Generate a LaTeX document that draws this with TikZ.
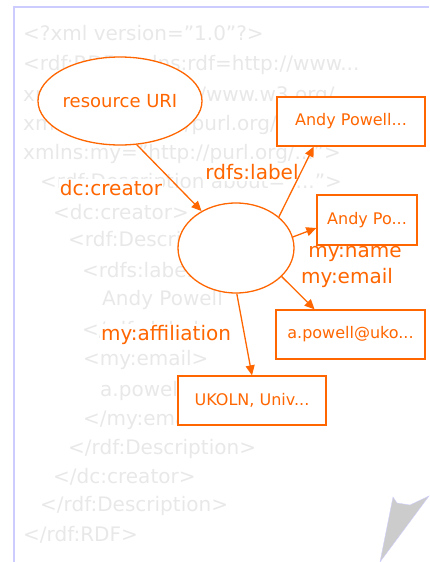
\documentclass[tikz,border=0pt]{standalone}
\usepackage[usenames,dvipsnames]{xcolor}
\usepackage{fontspec}
\setmainfont{DejaVu Sans}
\usepackage{tikz}
\usetikzlibrary{arrows.meta,shapes.geometric}
\definecolor{rdforange}{RGB}{255,102,0}
\definecolor{xmlgrey}{RGB}{232,232,232}
\definecolor{framelilac}{RGB}{204,204,255}
\definecolor{curlgrey}{RGB}{204,204,204}

\begin{document}
\begin{tikzpicture}[x=1pt,y=-1pt,
  xmlline/.style={anchor=west,inner sep=0pt,text=xmlgrey,font=\fontsize{20}{24}\selectfont},
  rdfnode/.style={ellipse,draw=rdforange,fill=white,line width=1.3pt,inner sep=0pt,text=rdforange,font=\fontsize{18}{22}\selectfont},
  litbox/.style={rectangle,draw=rdforange,fill=white,line width=1.3pt,minimum width=148pt,minimum height=49pt,inner sep=0pt,text=rdforange,font=\fontsize{16}{20}\selectfont},
  arclabel/.style={fill=white,inner sep=1pt,text=rdforange,font=\fontsize{20}{24}\selectfont},
  rdfarc/.style={-{Triangle[length=10pt,width=9pt]},color=rdforange,line width=1.3pt}]
\useasboundingbox (0,0) rectangle (429,562);

 % slide frame and page curl
 \draw[framelilac,line width=1.5pt] (14,562) -- (14,7) -- (429,7);
 \fill[curlgrey,draw=framelilac,line width=0.4pt] (393,497) -- (397,503) -- (410,505) -- (429,496) -- (380,562) -- cycle;

 % the rdf/xml behind the graph
 \draw (23,33) node[xmlline] (x1) {<?xml version="1.0"?>};
 \draw (23,65) node[xmlline] (x2) {<rdf:RDF xmlns:rdf=http://www...};
 \draw (23,96) node[xmlline] (x3) {xmlns:rdfs=http://www.w3.org/};
 \draw (23,125) node[xmlline] (x4) {xmlns:dc=http://purl.org/dc/...};
 \draw (23,154) node[xmlline] (x5) {xmlns:my="http://purl.org/...">};
 \draw (40,183) node[xmlline] (x6) {<rdf:Description about="...">};
 \draw (53,212) node[xmlline] (x7) {<dc:creator>};
 \draw (68,241) node[xmlline] (x8) {<rdf:Description>};
 \draw (82,270) node[xmlline] (x9) {<rdfs:label>};
 \draw (102,300) node[xmlline] (x10) {Andy Powell};
 \draw (82,330) node[xmlline] (x11) {</rdfs:label>};
 \draw (83,360) node[xmlline] (x12) {<my:email>};
 \draw (100,391) node[xmlline] (x13) {a.powell@ukoln.ac.uk};
 \draw (83,420) node[xmlline] (x14) {</my:email>};
 \draw (68,449) node[xmlline] (x15) {</rdf:Description>};
 \draw (53,477) node[xmlline] (x16) {</dc:creator>};
 \draw (40,506) node[xmlline] (x17) {</rdf:Description>};
 \draw (23,535) node[xmlline] (x18) {</rdf:RDF>};

 % property names
 \draw (111,188) node[arclabel] (lcreator) {dc:creator};
 \draw (252,172) node[arclabel] (llabel) {rdfs:label};
 \draw (355,254) node[arclabel] (lname) {my:name};
 \draw (347,278) node[arclabel] (lemail) {my:email};
 \draw (166,335) node[arclabel] (laffil) {my:affiliation};

 % resources and literals
 \draw (120,101) node[rdfnode,minimum width=164pt,minimum height=88pt] (res) {resource URI};
 \draw (236,248) node[rdfnode,minimum width=116pt,minimum height=90pt] (blank) {};
 \draw (351,121.5) node[litbox] (lab) {Andy Powell...};
 \draw (367,220) node[litbox,minimum width=100pt,minimum height=50pt] (name) {Andy Po...};
 \draw (350.5,334.5) node[litbox,minimum width=149pt] (email) {a.powell@uko...};
 \draw (252,400.5) node[litbox] (affil) {UKOLN, Univ...};

 \draw[rdfarc] (res.-69) -- (blank.133);
 \draw[rdfarc] (blank.36) -- (lab.214);
 \draw[rdfarc] (blank.11) -- (name.189);
 \draw[rdfarc] (blank.-32) -- (email.145);
 \draw[rdfarc] (blank.-89) -- (affil.north);

\end{tikzpicture}
\end{document}
